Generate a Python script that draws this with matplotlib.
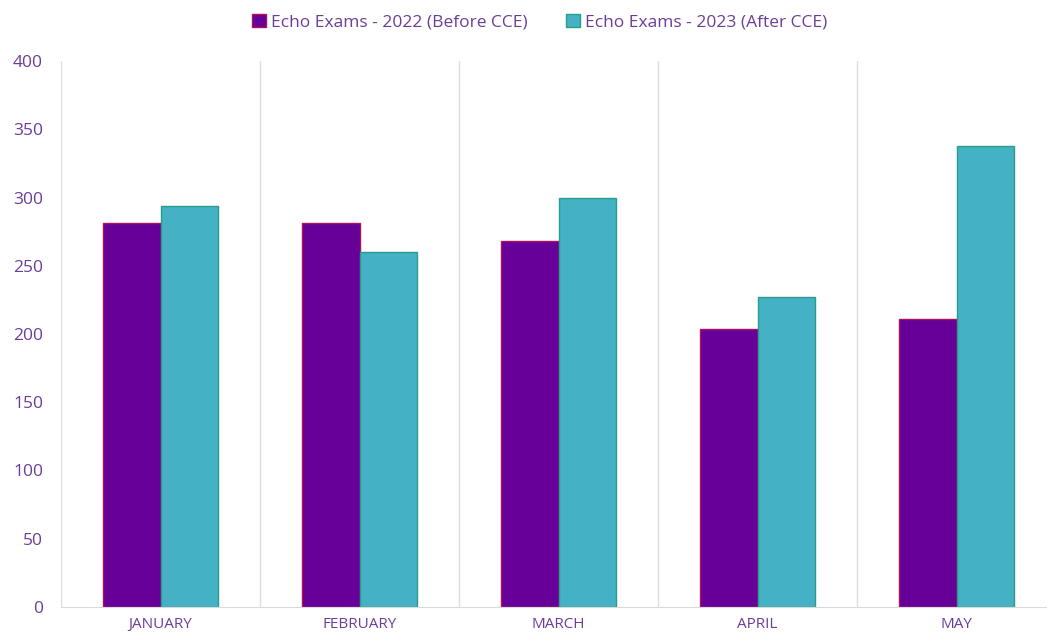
import numpy as np
import matplotlib
matplotlib.use('Agg')
from matplotlib import pyplot as plt
from matplotlib import ticker as mticker

# Chart data
months   = ['JANUARY', 'FEBRUARY', 'MARCH', 'APRIL', 'MAY']
exams_22 = [281, 281, 268, 204, 211]
exams_23 = [294, 260, 300, 227, 338]
labels   = ['Echo Exams - 2022 (Before CCE)', 'Echo Exams - 2023 (After CCE)']

def main():

    plt.rcParams['font.family'] = ['Open Sans', 'DejaVu Sans']
    txt = '#6a3d9a'

    fig = plt.figure(figsize=(10.47, 6.37), dpi=100)
    ax  = fig.add_axes([61 / 1047, 1 - 607 / 637, 995 / 1047, 546 / 637])

    x = np.arange(len(months))
    w = 0.287
    b1 = ax.bar(x - w / 2, exams_22, w, color='#660099', edgecolor='#b0105a',
                linewidth=1, label=labels[0])
    b2 = ax.bar(x + w / 2, exams_23, w, color='#45b1c4', edgecolor='#2a9d8a',
                linewidth=1, label=labels[1])

    ax.set_xlim(-0.5, len(months) - 0.5)
    ax.set_ylim(0, 400)
    ax.yaxis.set_major_locator(mticker.MultipleLocator(50))
    ax.set_xticks(x)
    ax.set_xticklabels(months)

    # Category separators
    for k in range(len(months) + 1):
        ax.axvline(k - 0.5, color='#dddddd', linewidth=1, zorder=0)

    for s in ['top', 'right', 'left']:
        ax.spines[s].set_visible(False)
    ax.spines['bottom'].set_color('#d9d9d9')
    ax.tick_params(axis='both', length=0)
    ax.tick_params(axis='y', labelsize=12.5, labelcolor=txt, pad=13)
    ax.tick_params(axis='x', labelsize=11, labelcolor=txt, pad=7)

    leg = fig.legend(handles=[b1, b2], loc='center', bbox_to_anchor=(540 / 1047, 1 - 22 / 637),
                     ncol=2, frameon=False, fontsize=12.5, handlelength=0.8, handleheight=0.8,
                     handletextpad=0.3, columnspacing=2.2)
    for t in leg.get_texts():
        t.set_color(txt)

    fname = 'out.png'
    print('Writing %s' % (fname))
    plt.savefig(fname, dpi=100)
    plt.close()

if __name__ == '__main__': main()
